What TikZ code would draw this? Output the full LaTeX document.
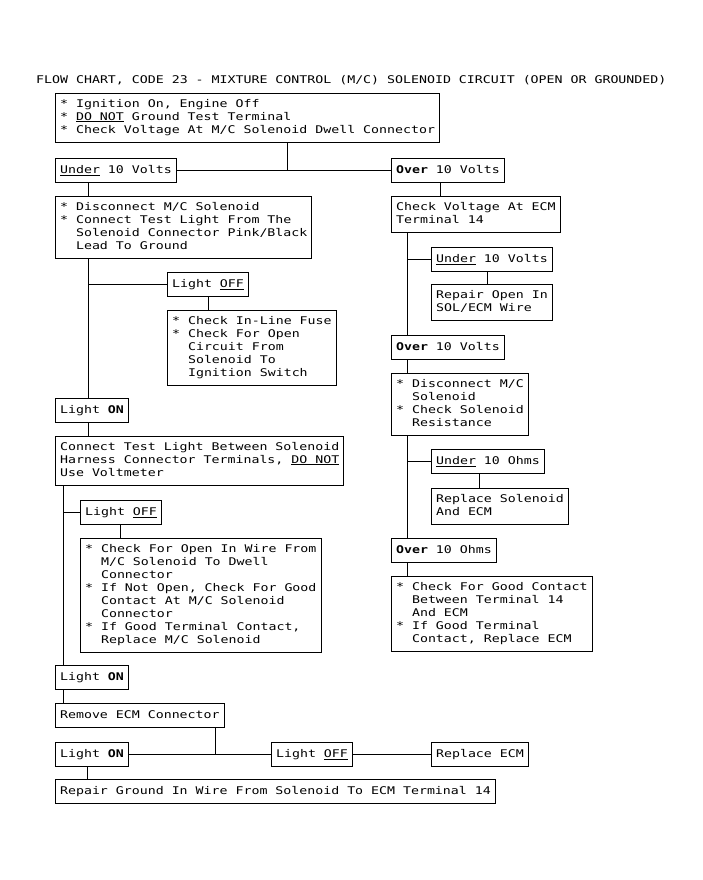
\documentclass[tikz,border=0pt]{standalone}
\usepackage{fontspec}
\newfontfamily\mono[FakeStretch=1.25]{DejaVu Sans Mono}
\newcommand\tf{\mono\fontsize{10.6}{13}\selectfont\frenchspacing\lineskiplimit=-\maxdimen}
\newcommand\sr{\rule[-3.5pt]{0pt}{13pt}}
\newcommand\uln[1]{\setbox0\hbox{#1}\rlap{\rule[-2pt]{\wd0}{0.8pt}}\box0\relax}
\newcommand\ind{\hphantom{**}}
\begin{document}
\begin{tikzpicture}[x=1pt,y=-1pt,
  bx/.style={draw, line width=1pt, anchor=north west, align=left,
    inner xsep=4.6pt, inner ysep=5.5pt, font=\tf,
    execute at begin node=\sr, execute at end node=\sr},
  ln/.style={line width=1pt}]
\useasboundingbox (0,0) rectangle (703,880);
\fill[white] (0,0) rectangle (703,880);

\node[anchor=base west, inner sep=0pt, font=\tf] (title) at (36,84)
  {FLOW CHART, CODE 23 - MIXTURE CONTROL (M/C) SOLENOID CIRCUIT (OPEN OR GROUNDED)};

% left column
\node[bx] (top) at (55,93) {* Ignition On, Engine Off\\* \uln{DO NOT} Ground Test Terminal\\* Check Voltage At M/C Solenoid Dwell Connector};
\node[bx] (under1) at (55,158) {\uln{Under} 10 Volts};
\node[bx] (over1) at (391,158) {\textbf{Over} 10 Volts};
\node[bx] (disc) at (55,196) {* Disconnect M/C Solenoid\\* Connect Test Light From The\\\ind Solenoid Connector Pink/Black\\\ind Lead To Ground};
\node[bx] (lightoff1) at (167,272) {Light \uln{OFF}};
\node[bx] (inline) at (167,310) {* Check In-Line Fuse\\* Check For Open\\\ind Circuit From\\\ind Solenoid To\\\ind Ignition Switch};
\node[bx] (lighton1) at (55,398) {Light \textbf{ON}};
\node[bx] (connect) at (55,436) {Connect Test Light Between Solenoid\\Harness Connector Terminals, \uln{DO NOT}\\Use Voltmeter};
\node[bx] (lightoff2) at (80,500) {Light \uln{OFF}};
\node[bx] (checkopen) at (80,538) {* Check For Open In Wire From\\\ind M/C Solenoid To Dwell\\\ind Connector\\* If Not Open, Check For Good\\\ind Contact At M/C Solenoid\\\ind Connector\\* If Good Terminal Contact,\\\ind Replace M/C Solenoid};
\node[bx] (lighton2) at (55,665) {Light \textbf{ON}};
\node[bx] (remove) at (55,703) {Remove ECM Connector};
\node[bx] (lighton3) at (55,742) {Light \textbf{ON}};
\node[bx] (lightoff3) at (271,742) {Light \uln{OFF}};
\node[bx] (replace) at (431,742) {Replace ECM};
\node[bx] (repair) at (55,779) {Repair Ground In Wire From Solenoid To ECM Terminal 14};

% right column
\node[bx] (checkvolt) at (391,196) {Check Voltage At ECM\\Terminal 14};
\node[bx] (under2) at (431,247) {\uln{Under} 10 Volts};
\node[bx] (repairopen) at (431,284) {Repair Open In\\SOL/ECM Wire};
\node[bx] (over2) at (391,335) {\textbf{Over} 10 Volts};
\node[bx] (discmc) at (391,373) {* Disconnect M/C\\\ind Solenoid\\* Check Solenoid\\\ind Resistance};
\node[bx] (underohm) at (431,449) {\uln{Under} 10 Ohms};
\node[bx] (replsol) at (431,488) {Replace Solenoid\\And ECM};
\node[bx] (overohm) at (391,538) {\textbf{Over} 10 Ohms};
\node[bx] (goodcontact) at (391,576) {* Check For Good Contact\\\ind Between Terminal 14\\\ind And ECM\\* If Good Terminal\\\ind Contact, Replace ECM};

% column coordinates
\coordinate (xa) at (88,0);
\coordinate (xe) at (63,0);
\coordinate (xh) at (215,0);
\coordinate (xi) at (87,0);
\coordinate (xt) at (287,0);
\coordinate (xj) at (440,0);
\coordinate (xk) at (407,0);
\coordinate (xl) at (487,0);
\coordinate (xo) at (479,0);

% connectors left
\draw[ln] (xt |- top.south) -- (xt |- under1.east);
\draw[ln] (under1.east) -- (over1.west);
\draw[ln] (xa |- under1.south) -- (xa |- disc.north);
\draw[ln] (xa |- disc.south) -- (xa |- lighton1.north);
\draw[ln] (xa |- lightoff1.west) -- (lightoff1.west);
\draw[ln] (lightoff1.south) -- (lightoff1.south |- inline.north);
\draw[ln] (xa |- lighton1.south) -- (xa |- connect.north);
\draw[ln] (xe |- connect.south) -- (xe |- lighton2.north);
\draw[ln] (xe |- lightoff2.west) -- (lightoff2.west);
\draw[ln] (lightoff2.south) -- (lightoff2.south |- checkopen.north);
\draw[ln] (xe |- lighton2.south) -- (xe |- remove.north);
\draw[ln] (xh |- remove.south) -- (xh |- lighton3.east);
\draw[ln] (lighton3.east) -- (lightoff3.west);
\draw[ln] (lightoff3.east) -- (replace.west);
\draw[ln] (xi |- lighton3.south) -- (xi |- repair.north);

% connectors right
\draw[ln] (xj |- over1.south) -- (xj |- checkvolt.north);
\draw[ln] (xk |- checkvolt.south) -- (xk |- over2.north);
\draw[ln] (xk |- under2.west) -- (under2.west);
\draw[ln] (xl |- under2.south) -- (xl |- repairopen.north);
\draw[ln] (xk |- over2.south) -- (xk |- discmc.north);
\draw[ln] (xk |- discmc.south) -- (xk |- overohm.north);
\draw[ln] (xk |- underohm.west) -- (underohm.west);
\draw[ln] (xo |- underohm.south) -- (xo |- replsol.north);
\draw[ln] (xk |- overohm.south) -- (xk |- goodcontact.north);
\end{tikzpicture}
\end{document}
